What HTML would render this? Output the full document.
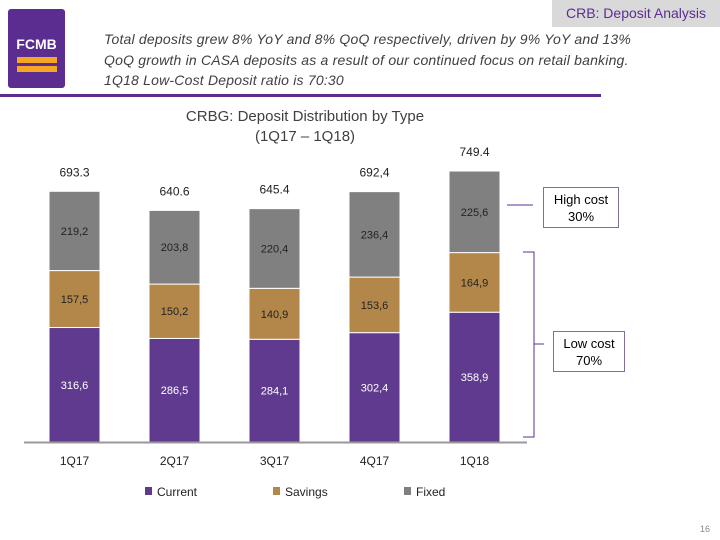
<!DOCTYPE html>
<html><head><meta charset="utf-8"><style>
body{margin:0;width:720px;height:540px;background:#fff;font-family:"Liberation Sans",sans-serif;position:relative;overflow:hidden}
.a{position:absolute}
</style></head><body>
<div class="a" style="left:8px;top:9px;width:57px;height:79px;background:#5c2d91;border-radius:3px">
 <div class="a" style="left:0;width:57px;top:27px;text-align:center;color:#fff;font-weight:bold;font-size:14px">FCMB</div>
 <div class="a" style="left:9px;top:48px;width:40px;height:6px;background:#f5a623"></div>
 <div class="a" style="left:9px;top:57px;width:40px;height:6px;background:#f5a623"></div>
</div>
<div class="a" style="left:552px;top:0;width:168px;height:27px;background:#d9d9d9;color:#5c2d91;font-size:14px;line-height:27px;text-align:center">CRB: Deposit Analysis</div>
<div class="a" style="left:104px;top:29px;width:610px;white-space:nowrap;font-style:italic;font-size:14px;line-height:20.5px;color:#404040;letter-spacing:0.2px">Total deposits grew 8% YoY and 8% QoQ respectively, driven by 9% YoY and 13%<br>QoQ growth in CASA deposits as a result of our continued focus on retail banking.<br>1Q18 Low-Cost Deposit ratio is 70:30</div>
<div class="a" style="left:0;top:94px;width:601px;height:3px;background:#5c2d91"></div>
<div class="a" style="left:155px;top:107px;width:300px;text-align:center;font-size:15px;line-height:20px;color:#404040">CRBG: Deposit Distribution by Type<br>(1Q17 – 1Q18)</div>
<svg class="a" style="left:0;top:0" width="720" height="540" id="chart"></svg>
<div class="a" style="left:543px;top:187px;width:76px;height:41px;border:1px solid #7f6f99;text-align:center;font-size:13px;line-height:17px;padding-top:3px;box-sizing:border-box">High cost<br>30%</div>
<div class="a" style="left:553px;top:331px;width:72px;height:41px;border:1px solid #7f6f99;text-align:center;font-size:13px;line-height:17px;padding-top:3px;box-sizing:border-box">Low cost<br>70%</div>
<div class="a" style="left:700px;top:524px;font-size:9px;color:#888">16</div>
<script>
const categories=["1Q17","2Q17","3Q17","4Q17","1Q18"];
const current=[316.6,286.5,284.1,302.4,358.9];
const savings=[157.5,150.2,140.9,153.6,164.9];
const fixed=[219.2,203.8,220.4,236.4,225.6];
const totals=["693.3","640.6","645.4","692,4","749.4"];
const seriesNames=["Current","Savings","Fixed"];
const colors=["#5f3a8f","#b3874a","#808080"];
const svg=document.getElementById('chart');const NS="http://www.w3.org/2000/svg";
const base=442,scale=0.3616;
const x=i=>49+i*100,bw=51;
const y=v=>base-v*scale;
function mk(t,a){const e=document.createElementNS(NS,t);for(const k in a)e.setAttribute(k,a[k]);svg.appendChild(e);return e;}
const fmt=v=>v.toFixed(1).replace('.',',');
categories.forEach((c,i)=>{
 let cum=0;
 [current,savings,fixed].forEach((s,j)=>{
  const v=s[i];
  const r=mk('rect',{x:x(i),y:y(cum+v),width:bw,height:v*scale,fill:colors[j],stroke:'#fff','stroke-width':1});
  
  
  const t=mk('text',{x:x(i)+bw/2,y:y(cum+v/2)+4,'text-anchor':'middle','font-size':11,fill:j==0?'#fff':'#222'});
  t.textContent=fmt(v);
  
  
  cum+=v;
 });
 const tt=mk('text',{x:x(i)+bw/2,y:y(cum)-15,'text-anchor':'middle','font-size':12,fill:'#222'});
 tt.textContent=totals[i];
 
 
 const xl=mk('text',{x:x(i)+bw/2,y:465,'text-anchor':'middle','font-size':12,fill:'#222'});
 xl.textContent=c;
 
 
});
const ax=mk('line',{x1:24,x2:527,y1:base+0.5,y2:base+0.5,stroke:'#999','stroke-width':2});


const br=mk('path',{d:'M523 252 H534 V437 H523 M534 344 H544 M507 205 H533',fill:'none',stroke:'#5c2d91','stroke-width':1});


const lx=[145,273,404];
seriesNames.forEach((n,j)=>{
 const r=mk('rect',{x:lx[j],y:487,width:7,height:8,fill:colors[j]});
 
 
 const t=mk('text',{x:lx[j]+12,y:496,'font-size':12,fill:'#222'});
 t.textContent=n;
 
 
});
</script>
</body></html>
